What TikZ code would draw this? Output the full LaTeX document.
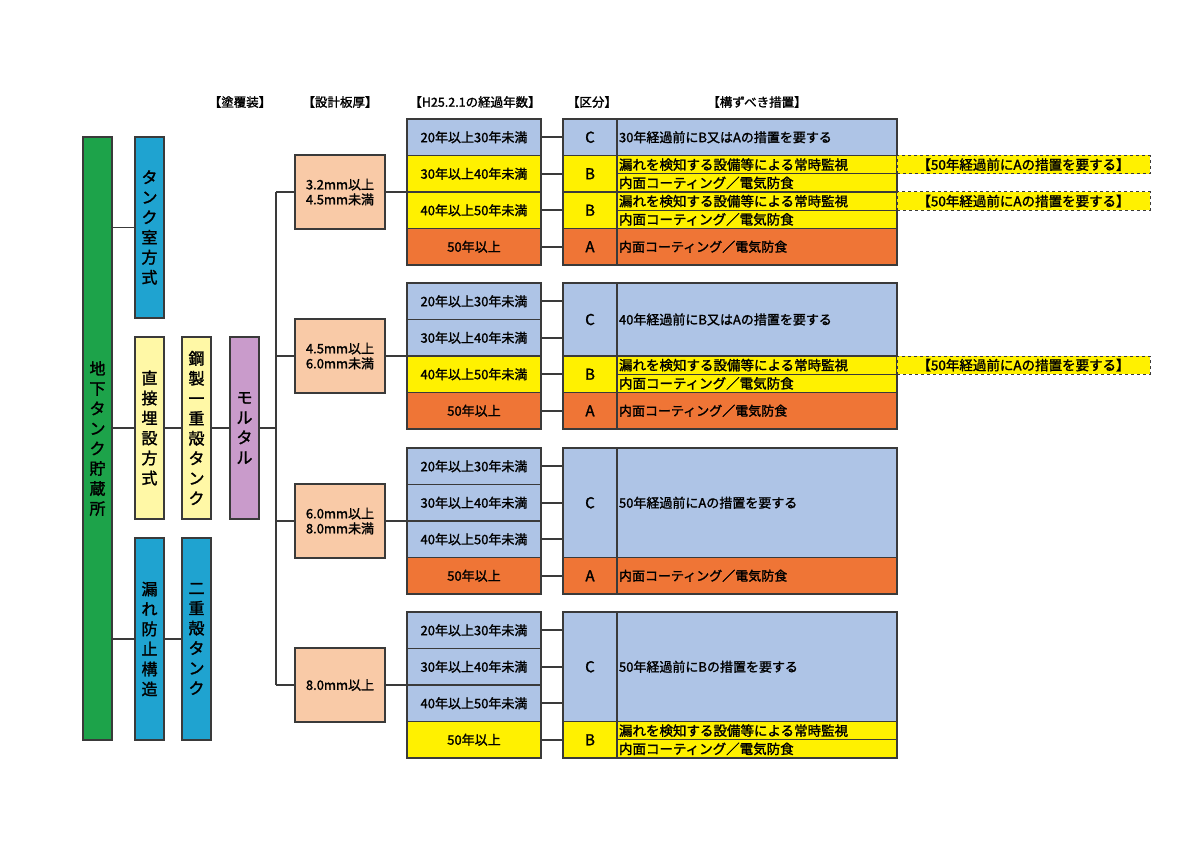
\documentclass[tikz,border=0pt]{standalone}
\usepackage{fontspec}
\setmainfont{Noto Sans CJK JP}[AutoFakeBold=1.6]
\usetikzlibrary{positioning}
\definecolor{lineGray}{HTML}{3A3A3A}
\definecolor{rootGreen}{HTML}{1DA34A}
\definecolor{skyBlue}{HTML}{1FA3D0}
\definecolor{paleYellow}{HTML}{FFF8A6}
\definecolor{lilac}{HTML}{C99BCB}
\definecolor{peach}{HTML}{F9CAA7}
\definecolor{paleBlue}{HTML}{AEC4E6}
\definecolor{signYellow}{HTML}{FFF100}
\definecolor{rustOrange}{HTML}{EF7536}

\begin{document}
\begin{tikzpicture}[x=1pt, y=-1pt,
    box/.style={draw=lineGray, line width=1.8pt, inner sep=0pt, font=\bfseries\fontsize{13}{15}\selectfont},
    bar/.style={box, minimum width=29pt, align=center, font=\bfseries\fontsize{16}{20}\selectfont},
    yr/.style={box, minimum width=134pt, minimum height=36.5pt},
    cls/.style={box, minimum width=54pt, font=\bfseries\fontsize{15}{17}\selectfont},
    msr/.style={box, minimum width=280pt, text width=276pt, align=left},
    half/.style={msr, line width=1.2pt, minimum height=18.25pt, font=\bfseries\fontsize{13.5}{14}\selectfont},
    note/.style={draw=lineGray, dashed, line width=1pt, fill=signYellow, minimum width=253pt, minimum height=18.25pt, inner sep=0pt, font=\bfseries\fontsize{13.5}{14}\selectfont},
    head/.style={font=\bfseries\fontsize{12.5}{14}\selectfont},
    link/.style={draw=lineGray, line width=1.8pt}]
    \useasboundingbox (0,0) rectangle (1200,848);

    % headings
    \node[head] (hCoat) at (240,102) {【塗覆装】};
    \node[head] (hThick) at (340,102) {【設計板厚】};
    \node[head] (hYears) at (475,102) {【H25.2.1の経過年数】};
    \node[head] (hClass) at (592,102) {【区分】};
    \node[head] (hMeasure) at (757,102) {【構ずべき措置】};

    % left tree
    \node[bar, fill=rootGreen, minimum height=603pt] (root) at (97.5,438.5) {地\\下\\タ\\ン\\ク\\貯\\蔵\\所};
    \node[bar, fill=skyBlue, minimum height=181pt] (tankRoom) at (149.5,227.5) {タ\\ン\\ク\\室\\方\\式};
    \node[bar, fill=paleYellow, minimum height=182pt] (direct) at (149.5,428) {直\\接\\埋\\設\\方\\式};
    \node[bar, fill=skyBlue, minimum height=202pt] (leakProof) at (149.5,639) {漏\\れ\\防\\止\\構\\造};
    \node[bar, fill=paleYellow, minimum height=182pt] (single) at (196.5,428) {鋼\\製\\一\\重\\殻\\タ\\ン\\ク};
    \node[bar, fill=skyBlue, minimum height=202pt] (double) at (196.5,639) {二\\重\\殻\\タ\\ン\\ク};
    \node[bar, fill=lilac, minimum height=182pt] (mortar) at (244.5,428) {モ\\ル\\タ\\ル};
    \coordinate (bus) at (276,428);

    \draw[link] (root.east |- tankRoom.west) -- (tankRoom.west);
    \draw[link] (root.east |- direct.west) -- (direct.west);
    \draw[link] (root.east |- leakProof.west) -- (leakProof.west);
    \draw[link] (direct.east) -- (single.west);
    \draw[link] (leakProof.east) -- (double.west);
    \draw[link] (single.east) -- (mortar.west);
    \draw[link] (mortar.east) -- (bus);

    % thickness groups and elapsed years
    \foreach \g/\y/\thk/\ca/\cb/\cc/\cd in {
        1/119/{3.2mm以上\\4.5mm未満}/paleBlue/signYellow/signYellow/rustOrange,
        2/283/{4.5mm以上\\6.0mm未満}/paleBlue/paleBlue/signYellow/rustOrange,
        3/448/{6.0mm以上\\8.0mm未満}/paleBlue/paleBlue/paleBlue/rustOrange,
        4/612/{8.0mm以上}/paleBlue/paleBlue/paleBlue/signYellow} {
        \node[box, fill=peach, minimum width=90pt, minimum height=74pt, align=left] (thk\g) at (340,\y+73) {\thk};
        \foreach \r/\c/\txt in {1/\ca/20年以上30年未満, 2/\cb/30年以上40年未満,
                                 3/\cc/40年以上50年未満, 4/\cd/50年以上}
            \node[yr, fill=\c] (y\g-\r) at (474,\y+36.5*\r-18.25) {\txt};
        \draw[link] (thk\g.west -| bus) -- (thk\g.west);
        \draw[link] (thk\g.east) -- (thk\g.east -| y\g-1.west);
    }
    \draw[link] (thk1.west -| bus) -- (thk4.west -| bus);

    % group 1
    \node[cls, fill=paleBlue, minimum height=36.5pt] (c1-1) at (590,137.25) {C};
    \node[msr, fill=paleBlue, minimum height=36.5pt] (m1-1) at (757,137.25) {30年経過前にB又はAの措置を要する};
    \node[cls, fill=signYellow, minimum height=36.5pt] (c1-2) at (590,173.75) {B};
    \node[half, fill=signYellow] (m1-2a) at (757,164.625) {漏れを検知する設備等による常時監視};
    \node[half, fill=signYellow] (m1-2b) at (757,182.875) {内面コーティング／電気防食};
    \node[note] (n1-2) at (1023.5,164.625) {【50年経過前にAの措置を要する】};
    \node[cls, fill=signYellow, minimum height=36.5pt] (c1-3) at (590,210.25) {B};
    \node[half, fill=signYellow] (m1-3a) at (757,201.125) {漏れを検知する設備等による常時監視};
    \node[half, fill=signYellow] (m1-3b) at (757,219.375) {内面コーティング／電気防食};
    \node[note] (n1-3) at (1023.5,201.125) {【50年経過前にAの措置を要する】};
    \node[cls, fill=rustOrange, minimum height=36.5pt] (c1-4) at (590,246.75) {A};
    \node[msr, fill=rustOrange, minimum height=36.5pt] (m1-4) at (757,246.75) {内面コーティング／電気防食};

    % group 2
    \node[cls, fill=paleBlue, minimum height=73pt] (c2-1) at (590,319.5) {C};
    \node[msr, fill=paleBlue, minimum height=73pt] (m2-1) at (757,319.5) {40年経過前にB又はAの措置を要する};
    \node[cls, fill=signYellow, minimum height=36.5pt] (c2-3) at (590,374.25) {B};
    \node[half, fill=signYellow] (m2-3a) at (757,365.125) {漏れを検知する設備等による常時監視};
    \node[half, fill=signYellow] (m2-3b) at (757,383.375) {内面コーティング／電気防食};
    \node[note] (n2-3) at (1023.5,365.125) {【50年経過前にAの措置を要する】};
    \node[cls, fill=rustOrange, minimum height=36.5pt] (c2-4) at (590,410.75) {A};
    \node[msr, fill=rustOrange, minimum height=36.5pt] (m2-4) at (757,410.75) {内面コーティング／電気防食};

    % group 3
    \node[cls, fill=paleBlue, minimum height=109.5pt] (c3-1) at (590,502.75) {C};
    \node[msr, fill=paleBlue, minimum height=109.5pt] (m3-1) at (757,502.75) {50年経過前にAの措置を要する};
    \node[cls, fill=rustOrange, minimum height=36.5pt] (c3-4) at (590,575.75) {A};
    \node[msr, fill=rustOrange, minimum height=36.5pt] (m3-4) at (757,575.75) {内面コーティング／電気防食};

    % group 4
    \node[cls, fill=paleBlue, minimum height=109.5pt] (c4-1) at (590,666.75) {C};
    \node[msr, fill=paleBlue, minimum height=109.5pt] (m4-1) at (757,666.75) {50年経過前にBの措置を要する};
    \node[cls, fill=signYellow, minimum height=36.5pt] (c4-4) at (590,739.75) {B};
    \node[half, fill=signYellow] (m4-4a) at (757,730.625) {漏れを検知する設備等による常時監視};
    \node[half, fill=signYellow] (m4-4b) at (757,748.875) {内面コーティング／電気防食};

    % years to classes
    \foreach \g in {1,...,4}
        \foreach \r in {1,...,4}
            \draw[link] (y\g-\r.east) -- (y\g-\r.east -| c\g-1.west);
\end{tikzpicture}
\end{document}
